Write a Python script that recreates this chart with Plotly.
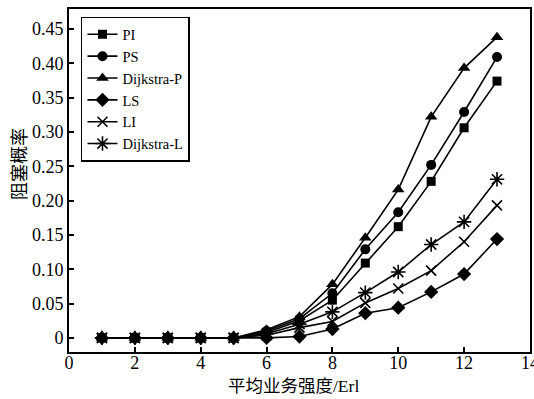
import plotly.graph_objects as go

x_vals = [1, 2, 3, 4, 5, 6, 7, 8, 9, 10, 11, 12, 13]
pi_vals = [0, 0, 0, 0, 0, 0.008, 0.025, 0.055, 0.109, 0.162, 0.228, 0.306, 0.374]
ps_vals = [0, 0, 0, 0, 0, 0.010, 0.028, 0.065, 0.129, 0.183, 0.252, 0.329, 0.409]
dp_vals = [0, 0, 0, 0, 0, 0.012, 0.031, 0.078, 0.146, 0.216, 0.322, 0.393, 0.438]
ls_vals = [0, 0, 0, 0, 0, 0.000, 0.002, 0.013, 0.036, 0.044, 0.067, 0.093, 0.144]
li_vals = [0, 0, 0, 0, 0, 0.004, 0.015, 0.024, 0.051, 0.072, 0.098, 0.140, 0.193]
dl_vals = [0, 0, 0, 0, 0, 0.006, 0.020, 0.038, 0.066, 0.096, 0.136, 0.169, 0.231]

series_names = ["PI", "PS", "Dijkstra-P", "LS", "LI", "Dijkstra-L"]
x_ticks = [0, 2, 4, 6, 8, 10, 12, 14]
y_ticks = [0, 0.05, 0.10, 0.15, 0.20, 0.25, 0.30, 0.35, 0.40, 0.45]
y_tick_text = ["0", "0.05", "0.10", "0.15", "0.20", "0.25", "0.30", "0.35", "0.40", "0.45"]
x_title = "平均业务强度/Erl"
y_title = "阻塞概率"

FONT = "Liberation Serif, Noto Sans CJK SC, serif"

styles = [
    dict(symbol="square", size=9),
    dict(symbol="circle", size=10),
    dict(symbol="triangle-up", size=11),
    dict(symbol="diamond", size=11),
    dict(symbol="x-thin-open", size=10, line=dict(width=1.6, color="black")),
    dict(symbol="asterisk-open", size=12, line=dict(width=1.6, color="black")),
]
data = [pi_vals, ps_vals, dp_vals, ls_vals, li_vals, dl_vals]

fig = go.Figure()
for name, vals, st in zip(series_names, data, styles):
    fig.add_trace(go.Scatter(
        x=x_vals, y=vals, name=name, mode="lines+markers",
        line=dict(color="black", width=1.6),
        marker=dict(color="black", **st),
    ))

axis_common = dict(
    showline=True, linecolor="black", linewidth=2, mirror=True,
    ticks="inside", ticklen=5, tickwidth=1.5, tickcolor="black",
    showgrid=False, zeroline=False, ticklabeloverflow="allow", automargin=False,
    tickfont=dict(family=FONT, size=18, color="black"),
)

fig.update_layout(
    width=534, height=399,
    margin=dict(l=69, r=4, t=9, b=47, autoexpand=False),
    paper_bgcolor="white", plot_bgcolor="white",
    font=dict(family=FONT, color="black"),
    xaxis=dict(range=[0, 14.002], tickvals=x_ticks, ticklabelstandoff=-7, **axis_common),
    yaxis=dict(range=[-0.0205, 0.479], tickvals=y_ticks, ticktext=y_tick_text, **axis_common),
    legend=dict(
        x=0.026, y=0.977, xanchor="left", yanchor="top",
        bordercolor="black", borderwidth=1.5, bgcolor="white",
        font=dict(family=FONT, size=14.5, color="black"),
        tracegroupgap=0, itemwidth=30,
    ),
    showlegend=True,
)

fig.add_annotation(text=x_title, xref="paper", yref="paper", x=(293 - 69) / 461, y=-(386 - 352) / 343,
                   showarrow=False, xanchor="center", yanchor="middle",
                   font=dict(family=FONT, size=17.5, color="black"))
fig.add_annotation(text=y_title, xref="paper", yref="paper", x=-(69 - 20) / 461, y=(352 - 164) / 343,
                   showarrow=False, xanchor="center", yanchor="middle", textangle=-90,
                   font=dict(family=FONT, size=18, color="black"))

fig.write_html("out.html")
